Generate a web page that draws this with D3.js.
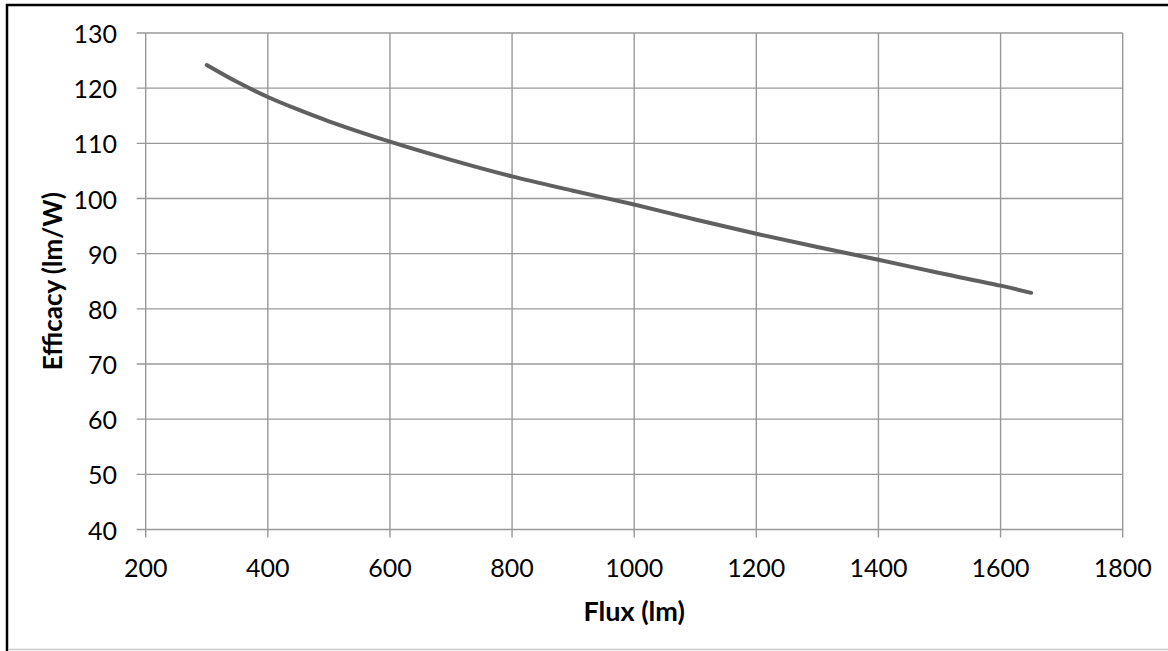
<!DOCTYPE html>
<html>
<head>
<meta charset="utf-8">
<script src="https://cdn.jsdelivr.net/npm/d3@7"></script>
<style>
  html, body { margin: 0; padding: 0; background: #fff; }
  svg { display: block; font-family: Lato, "Open Sans", sans-serif; }
</style>
</head>
<body>
<svg id="chart" width="1168" height="651"></svg>
<script>
// flux (lm) and efficacy (lm/W)
const flux = [300, 350, 400, 450, 500, 600, 700, 800, 900, 1000, 1100, 1200, 1300, 1400, 1500, 1600, 1650];
const efficacy = [124.2, 121.1, 118.4, 116.1, 114.0, 110.3, 107.0, 104.0, 101.4, 98.9, 96.2, 93.6, 91.2, 88.9, 86.5, 84.2, 82.9];
const xTicks = [200, 400, 600, 800, 1000, 1200, 1400, 1600, 1800];
const yTicks = [40, 50, 60, 70, 80, 90, 100, 110, 120, 130];

const svg = d3.select("#chart");
const W = 1168, H = 651;
const plot = { left: 145.7, right: 1122.7, top: 33, bottom: 529.5 };

// outer frame: heavy black top/left, light bottom
svg.append("line").attr("x1", 6).attr("x2", W).attr("y1", 5).attr("y2", 5)
  .attr("stroke", "#000").attr("stroke-width", 2.5);
svg.append("line").attr("x1", 7).attr("x2", 7).attr("y1", 4).attr("y2", H)
  .attr("stroke", "#000").attr("stroke-width", 2.5);
svg.append("line").attr("x1", 8).attr("x2", W).attr("y1", 649.5).attr("y2", 649.5)
  .attr("stroke", "#c8c8c8").attr("stroke-width", 1.5);

const x = d3.scaleLinear().domain([200, 1800]).range([plot.left, plot.right]);
const y = d3.scaleLinear().domain([40, 130]).range([plot.bottom, plot.top]);

const gridColor = "#999";

// gridlines
svg.append("g").selectAll("line").data(xTicks).enter().append("line")
  .attr("x1", d => x(d)).attr("x2", d => x(d))
  .attr("y1", plot.top).attr("y2", plot.bottom + 8)
  .attr("stroke", gridColor).attr("stroke-width", 1.4);

svg.append("g").selectAll("line").data(yTicks).enter().append("line")
  .attr("x1", plot.left - 9).attr("x2", plot.right)
  .attr("y1", d => y(d)).attr("y2", d => y(d))
  .attr("stroke", gridColor).attr("stroke-width", 1.4);

// tick labels
svg.append("g").selectAll("text").data(yTicks).enter().append("text")
  .attr("x", 117).attr("y", d => y(d))
  .attr("text-anchor", "end").attr("dominant-baseline", "central")
  .attr("font-size", 25).attr("fill", "#000")
  .text(d => d);

svg.append("g").selectAll("text").data(xTicks).enter().append("text")
  .attr("x", d => x(d)).attr("y", 567)
  .attr("text-anchor", "middle").attr("dominant-baseline", "central")
  .attr("font-size", 25).attr("fill", "#000")
  .text(d => d);

// axis titles
svg.append("text")
  .attr("x", (plot.left + plot.right) / 2).attr("y", 610)
  .attr("text-anchor", "middle").attr("dominant-baseline", "central")
  .attr("font-size", 27).attr("font-weight", "bold")
  .text("Flux (lm)");

svg.append("text")
  .attr("transform", `translate(52,${(plot.top + plot.bottom) / 2}) rotate(-90)`)
  .attr("text-anchor", "middle").attr("dominant-baseline", "central")
  .attr("font-size", 26).attr("font-weight", "bold")
  .text("Efficacy (lm/W)");

// the curve
const line = d3.line()
  .x(d => x(d[0]))
  .y(d => y(d[1]))
  .curve(d3.curveCatmullRom);

svg.append("path")
  .datum(flux.map((f, i) => [f, efficacy[i]]))
  .attr("d", line)
  .attr("fill", "none")
  .attr("stroke", "#606060")
  .attr("stroke-width", 4)
  .attr("stroke-linecap", "round")
  .attr("stroke-linejoin", "round");
</script>
</body>
</html>
